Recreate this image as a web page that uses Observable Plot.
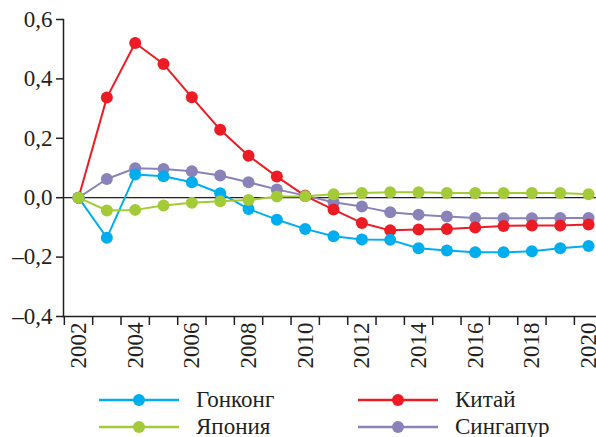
<!DOCTYPE html>
<html>
<head>
<meta charset="utf-8">
<script src="https://cdn.jsdelivr.net/npm/d3@7"></script>
<script src="https://cdn.jsdelivr.net/npm/@observablehq/plot@0.6"></script>
</head>
<body style="margin:0;background:#fff;font-family:'Liberation Serif'">
<div id="chart"></div>
<div id="legend" style="display:grid;grid-template-columns:259px 200px;padding-left:99px;padding-top:8px;font-family:'Liberation Serif'"></div>
<script>
const years = [2002,2003,2004,2005,2006,2007,2008,2009,2010,2011,2012,2013,2014,2015,2016,2017,2018,2019,2020];
const seriesNames = ["Гонконг", "Китай", "Япония", "Сингапур"];
const colors = ["#00AEEF", "#ED1C24", "#A3CB38", "#8A83B9"];
const hongKong = [0, -0.135, 0.078, 0.072, 0.052, 0.015, -0.038, -0.074, -0.105, -0.13, -0.141, -0.142, -0.17, -0.178, -0.184, -0.184, -0.18, -0.17, -0.163];
const china = [0, 0.337, 0.521, 0.45, 0.338, 0.229, 0.141, 0.071, 0.006, -0.04, -0.085, -0.11, -0.107, -0.105, -0.1, -0.095, -0.094, -0.094, -0.09];
const japan = [0, -0.043, -0.041, -0.026, -0.017, -0.012, -0.008, 0.004, 0.005, 0.012, 0.016, 0.018, 0.018, 0.016, 0.016, 0.016, 0.016, 0.016, 0.012];
const singapore = [0, 0.063, 0.099, 0.097, 0.089, 0.075, 0.052, 0.028, 0.007, -0.015, -0.03, -0.049, -0.057, -0.063, -0.068, -0.069, -0.069, -0.068, -0.068];
const yTicks = [-0.4, -0.2, 0, 0.2, 0.4, 0.6];
const xLabelYears = [2002, 2004, 2006, 2008, 2010, 2012, 2014, 2016, 2018, 2020];

const valuesBySeries = {"Гонконг": hongKong, "Китай": china, "Япония": japan, "Сингапур": singapore};
const drawOrder = ["Сингапур", "Китай", "Гонконг", "Япония"];
const data = drawOrder.flatMap(name => years.map((year, i) => ({name, year, value: valuesBySeries[name][i]})));
const colorOf = Object.fromEntries(seriesNames.map((n, i) => [n, colors[i]]));
const boundaries = years.map(y => y - 0.5);

const fmt = d => d.toFixed(1).replace(".", ",").replace("-", "\u2013");
const serif = "Liberation Serif";

const chart = Plot.plot({
  width: 596,
  height: 378,
  marginLeft: 63,
  marginRight: 0,
  marginTop: 19,
  marginBottom: 62,
  style: {fontSize: "23px", color: "#231f20", background: "#fff"},
  x: {domain: [2001.47, 2020.28], axis: null, label: null},
  y: {domain: [-0.4, 0.6], axis: null, label: null},
  marks: [
    Plot.ruleY([0], {stroke: "#231f20", strokeWidth: 1.2}),
    Plot.frame({anchor: "left", stroke: "#231f20", strokeWidth: 1.5}),
    Plot.frame({anchor: "bottom", stroke: "#231f20", strokeWidth: 1.5}),
    Plot.axisY({ticks: yTicks, label: null, tickSize: 7, tickPadding: 4, tickFormat: fmt, fontSize: 23, fontFamily: serif, stroke: "#231f20", strokeWidth: 1.5}),
    Plot.axisX({ticks: boundaries, label: null, tickSize: 9, tickFormat: () => "", stroke: "#231f20", strokeWidth: 1.5}),
    Plot.axisX({ticks: xLabelYears, label: null, tickSize: 0, tickPadding: 6, tickRotate: -90, tickFormat: d => String(d), fontSize: 23, fontFamily: serif}),
    ...drawOrder.map(name => Plot.line(data.filter(d => d.name === name), {x: "year", y: "value", stroke: colorOf[name], strokeWidth: 2})),
    ...drawOrder.map(name => Plot.dot(data.filter(d => d.name === name), {x: "year", y: "value", fill: colorOf[name], r: 6}))
  ]
});
chart.querySelectorAll("text").forEach(t => { t.style.fontFamily = "'Liberation Serif'"; });
document.getElementById("chart").appendChild(chart);

const legendOrder = ["Гонконг", "Китай", "Япония", "Сингапур"];
const legend = document.getElementById("legend");
for (const name of legendOrder) {
  const c = colorOf[name];
  const item = document.createElement("div");
  item.style.cssText = "display:flex;align-items:center;height:27px;font-size:23px;color:#231f20;font-family:'Liberation Serif'";
  item.innerHTML = `<svg width="80" height="14" style="margin-right:17px"><line x1="0" x2="80" y1="7" y2="7" stroke="${c}" stroke-width="2.5"/><circle cx="40" cy="7" r="6" fill="${c}"/></svg><span>${name}</span>`;
  legend.appendChild(item);
}
</script>
</body>
</html>
